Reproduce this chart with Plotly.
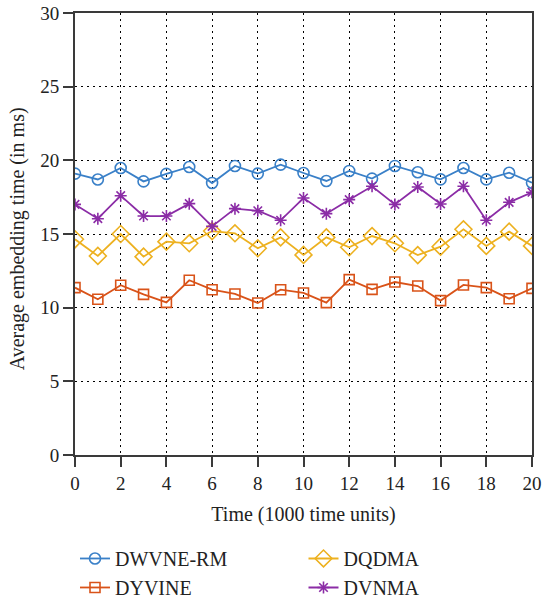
import plotly.graph_objects as go

x = list(range(0, 21))
dwvne_rm = [19.1, 18.7, 19.48, 18.57, 19.08, 19.55, 18.46, 19.62, 19.1, 19.71, 19.14,
            18.6, 19.28, 18.76, 19.62, 19.19, 18.71, 19.48, 18.71, 19.16, 18.48]
dyvine = [11.36, 10.57, 11.52, 10.9, 10.36, 11.86, 11.22, 10.93, 10.32, 11.22, 11.0,
          10.34, 11.9, 11.24, 11.74, 11.47, 10.48, 11.54, 11.36, 10.61, 11.31]
dqdma = [14.64, 13.51, 15.0, 13.46, 14.48, 14.37, 15.2, 15.05, 14.03, 14.77, 13.58,
         14.77, 14.1, 14.86, 14.37, 13.57, 14.14, 15.32, 14.19, 15.16, 14.19]
dvnma = [17.01, 16.04, 17.6, 16.22, 16.22, 17.06, 15.52, 16.72, 16.58, 15.93, 17.44,
         16.38, 17.33, 18.24, 17.01, 18.19, 17.04, 18.24, 15.93, 17.15, 17.83]

FONT = "Liberation Serif"
series = [
    ("DWVNE-RM", dwvne_rm, "#3a80c8", "circle-open", 11, "legend"),
    ("DYVINE", dyvine, "#d95319", "square-open", 10, "legend"),
    ("DQDMA", dqdma, "#edb120", "diamond-open", 13, "legend2"),
    ("DVNMA", dvnma, "#8b2ca6", "asterisk-open", 10, "legend2"),
]

fig = go.Figure()
for name, ys, col, sym, sz, leg in series:
    fig.add_trace(go.Scatter(
        x=x, y=ys, name=name, mode="lines+markers",
        line=dict(color=col, width=1.8),
        marker=dict(symbol=sym, size=sz, color=col, line=dict(color=col, width=1.6)),
        legend=leg, legendgroup=name,
    ))

axis_common = dict(
    showline=True, linecolor="#3a3a3a", linewidth=2, mirror=True,
    ticks="outside", ticklen=10, tickwidth=2, tickcolor="#3a3a3a",
    showgrid=True, gridcolor="black", gridwidth=1.2, griddash="2px,4px",
    zeroline=False, automargin=False, ticklabeloverflow="allow",
    tickfont=dict(family=FONT, size=19, color="#222"),
)

legend_common = dict(yanchor="top", orientation="v", xanchor="left",
                     font=dict(family=FONT, size=20, color="#222"),
                     tracegroupgap=0, bgcolor="rgba(0,0,0,0)")

fig.update_layout(
    width=543, height=599,
    margin=dict(l=75, r=11, t=13, b=144, autoexpand=False),
    paper_bgcolor="white", plot_bgcolor="white",
    font=dict(family=FONT, color="#222"),
    xaxis=dict(range=[0, 20], tickvals=list(range(0, 21, 2)),
               title=dict(text="Time (1000 time units)", font=dict(family=FONT, size=20), standoff=14),
               **axis_common),
    yaxis=dict(range=[0, 30], tickvals=list(range(0, 31, 5)), **axis_common),
    legend=dict(x=0.0, y=-0.19, **legend_common),
    legend2=dict(x=0.50, y=-0.19, **legend_common),
    annotations=[dict(
        text="Average embedding time (in ms)", xref="paper", yref="paper",
        x=-0.125, y=0.49, xanchor="center", yanchor="middle", textangle=-90,
        showarrow=False, font=dict(family=FONT, size=20, color="#222"),
    )],
)

fig.write_html(
    "out.html",
    config={"displayModeBar": False},
    post_script="document.body.style.margin='0';document.documentElement.style.overflow='hidden';",
)
